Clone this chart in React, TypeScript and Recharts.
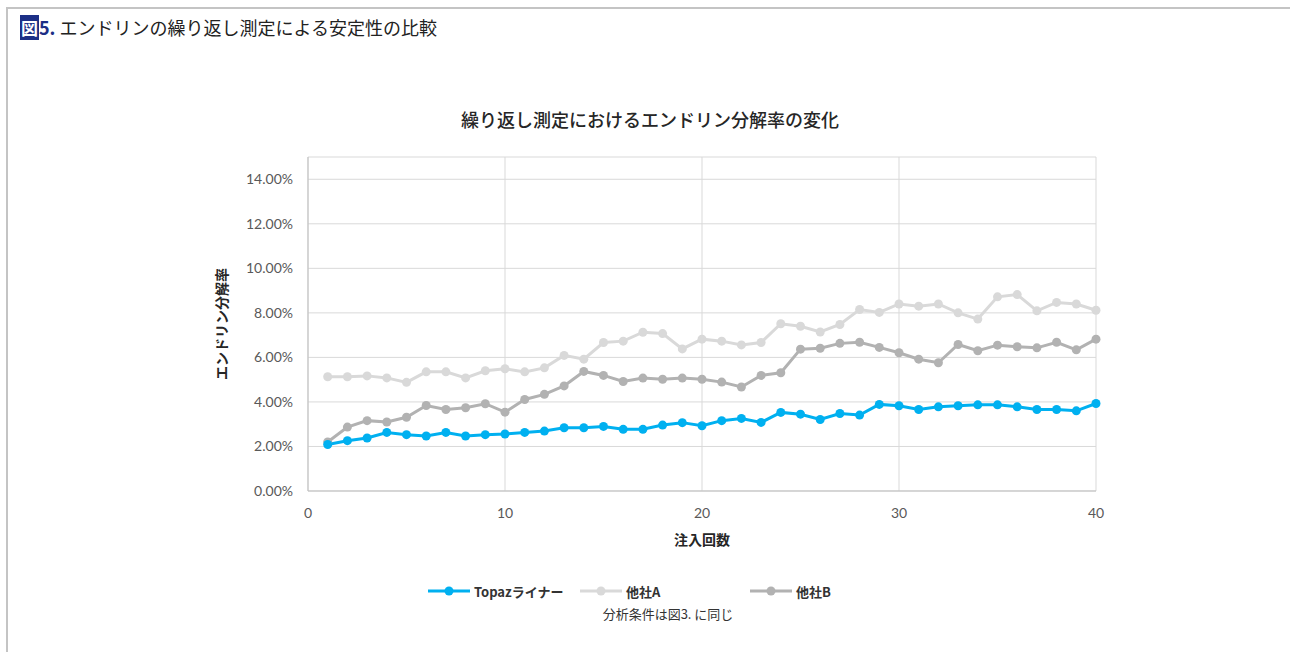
import React from "react";
import {
  LineChart,
  Line,
  XAxis,
  YAxis,
  CartesianGrid,
} from "recharts";

// 注入回数 1〜40
const injections = Array.from({ length: 40 }, (_, i) => i + 1);

// エンドリン分解率 (%)
const topaz = [
  2.09, 2.26, 2.38, 2.63, 2.53, 2.47, 2.63, 2.47, 2.53, 2.56,
  2.63, 2.69, 2.84, 2.84, 2.9, 2.77, 2.77, 2.96, 3.07, 2.93,
  3.16, 3.26, 3.08, 3.53, 3.45, 3.21, 3.48, 3.41, 3.89, 3.83,
  3.66, 3.78, 3.83, 3.87, 3.87, 3.78, 3.66, 3.66, 3.6, 3.93,
];
const otherA = [
  5.13, 5.13, 5.17, 5.08, 4.88, 5.35, 5.35, 5.08, 5.4, 5.49,
  5.35, 5.53, 6.09, 5.92, 6.67, 6.73, 7.13, 7.07, 6.38, 6.82,
  6.73, 6.56, 6.67, 7.51, 7.4, 7.14, 7.48, 8.15, 8.02, 8.4,
  8.3, 8.4, 8.0, 7.72, 8.72, 8.82, 8.09, 8.47, 8.4, 8.12,
];
const otherB = [
  2.2, 2.87, 3.16, 3.1, 3.31, 3.84, 3.66, 3.74, 3.92, 3.54,
  4.11, 4.34, 4.72, 5.37, 5.19, 4.92, 5.07, 5.02, 5.07, 5.02,
  4.89, 4.67, 5.19, 5.31, 6.37, 6.41, 6.63, 6.68, 6.45, 6.21,
  5.92, 5.76, 6.58, 6.3, 6.55, 6.48, 6.43, 6.68, 6.34, 6.82,
];

const xTicks = [0, 10, 20, 30, 40];
const yTicks = [0, 2, 4, 6, 8, 10, 12, 14];

const seriesNames = ["Topazライナー", "他社A", "他社B"];
const seriesColors = ["#00b0f0", "#d9d9d9", "#b2b2b2"];

const rows = injections.map((n, i) => ({
  n,
  topaz: topaz[i],
  a: otherA[i],
  b: otherB[i],
}));

const jp = "'Noto Sans CJK JP', 'Noto Sans', sans-serif";
const num = "Lato, 'Noto Sans', sans-serif";

const legendLefts = [428, 580, 750];

const LegendBlock = () => (
  <div style={{ position: "absolute", left: 0, top: 580, width: 1290, height: 50 }}>
    {seriesNames.map((name, i) => (
      <div
        key={name}
        style={{
          position: "absolute",
          left: legendLefts[i],
          top: 0,
          display: "flex",
          alignItems: "center",
          height: 22,
        }}
      >
        <svg width={42} height={12} style={{ marginRight: 4 }}>
          <line x1={0} y1={6} x2={42} y2={6} stroke={seriesColors[i]} strokeWidth={3} />
          <circle cx={21} cy={6} r={4.5} fill={seriesColors[i]} />
        </svg>
        <span
          style={{
            fontFamily: jp,
            fontWeight: 700,
            fontSize: 13,
            color: "#333",
          }}
        >
          {name}
        </span>
      </div>
    ))}
    <div
      style={{
        position: "absolute",
        left: 0,
        width: 1336,
        top: 24,
        textAlign: "center",
        fontFamily: jp,
        fontSize: 13,
        color: "#333",
      }}
    >
      分析条件は図3. に同じ
    </div>
  </div>
);

export default function App() {
  return (
    <div
      style={{
        position: "absolute",
        left: 0,
        top: 0,
        width: 1290,
        height: 652,
        background: "#fff",
        overflow: "hidden",
      }}
    >
      {/* frame */}
      <div
        style={{
          position: "absolute",
          left: 6,
          top: 7,
          width: 1290,
          height: 660,
          borderTop: "2px solid #c4c4c4",
          borderLeft: "2px solid #c4c4c4",
        }}
      />
      <div
        style={{
          position: "absolute",
          left: 20,
          top: 15,
          fontFamily: jp,
          fontSize: 18,
          color: "#222",
          whiteSpace: "nowrap",
          lineHeight: "24px",
        }}
      >
        <span
          style={{
            background: "#1c2f86",
            color: "#fff",
            fontWeight: 700,
            fontSize: 17,
            padding: "0 1px",
          }}
        >
          図
        </span>
        <span style={{ color: "#1c2f86", fontWeight: 700 }}>5.</span> エンドリンの繰り返し測定による安定性の比較
      </div>
      <div
        style={{
          position: "absolute",
          left: 0,
          width: 1300,
          top: 106,
          textAlign: "center",
          fontFamily: jp,
          fontSize: 18,
          fontWeight: 500,
          color: "#262626",
          whiteSpace: "nowrap",
        }}
      >
        繰り返し測定におけるエンドリン分解率の変化
      </div>
      <div style={{ position: "absolute", left: 0, top: 0 }}>
        <LineChart
          width={1290}
          height={652}
          data={rows}
          margin={{ top: 157, right: 194, bottom: 131, left: 248 }}
        >
          <CartesianGrid stroke="#d9d9d9" strokeWidth={1} />
          <XAxis
            dataKey="n"
            type="number"
            domain={[0, 40]}
            ticks={xTicks}
            height={30}
            tickLine={false}
            tickMargin={11}
            axisLine={{ stroke: "#bfbfbf" }}
            tick={{ fontFamily: num, fontSize: 14, fill: "#595959" }}
            label={{
              value: "注入回数",
              position: "bottom",
              offset: 14,
              style: { fontFamily: jp, fontSize: 14, fontWeight: 700, fill: "#262626" },
            }}
          />
          <YAxis
            type="number"
            domain={[0, 15]}
            ticks={yTicks}
            width={60}
            tickLine={false}
            tickMargin={9}
            axisLine={{ stroke: "#bfbfbf" }}
            tickFormatter={(v: number) => `${v.toFixed(2)}%`}
            tick={{ fontFamily: num, fontSize: 14, fill: "#595959" }}
            label={{
              value: "エンドリン分解率",
              angle: -90,
              position: "left",
              offset: 26,
              style: {
                fontFamily: jp,
                fontSize: 14,
                fontWeight: 700,
                fill: "#262626",
                textAnchor: "middle",
              },
            }}
          />
          <Line
            dataKey="a"
            name={seriesNames[1]}
            stroke={seriesColors[1]}
            strokeWidth={3}
            dot={{ r: 4.5, fill: seriesColors[1], stroke: seriesColors[1], strokeWidth: 0 }}
            isAnimationActive={false}
          />
          <Line
            dataKey="b"
            name={seriesNames[2]}
            stroke={seriesColors[2]}
            strokeWidth={3}
            dot={{ r: 4.5, fill: seriesColors[2], stroke: seriesColors[2], strokeWidth: 0 }}
            isAnimationActive={false}
          />
          <Line
            dataKey="topaz"
            name={seriesNames[0]}
            stroke={seriesColors[0]}
            strokeWidth={3}
            dot={{ r: 4.5, fill: seriesColors[0], stroke: seriesColors[0], strokeWidth: 0 }}
            isAnimationActive={false}
          />
        </LineChart>
      </div>
      <LegendBlock />
    </div>
  );
}
